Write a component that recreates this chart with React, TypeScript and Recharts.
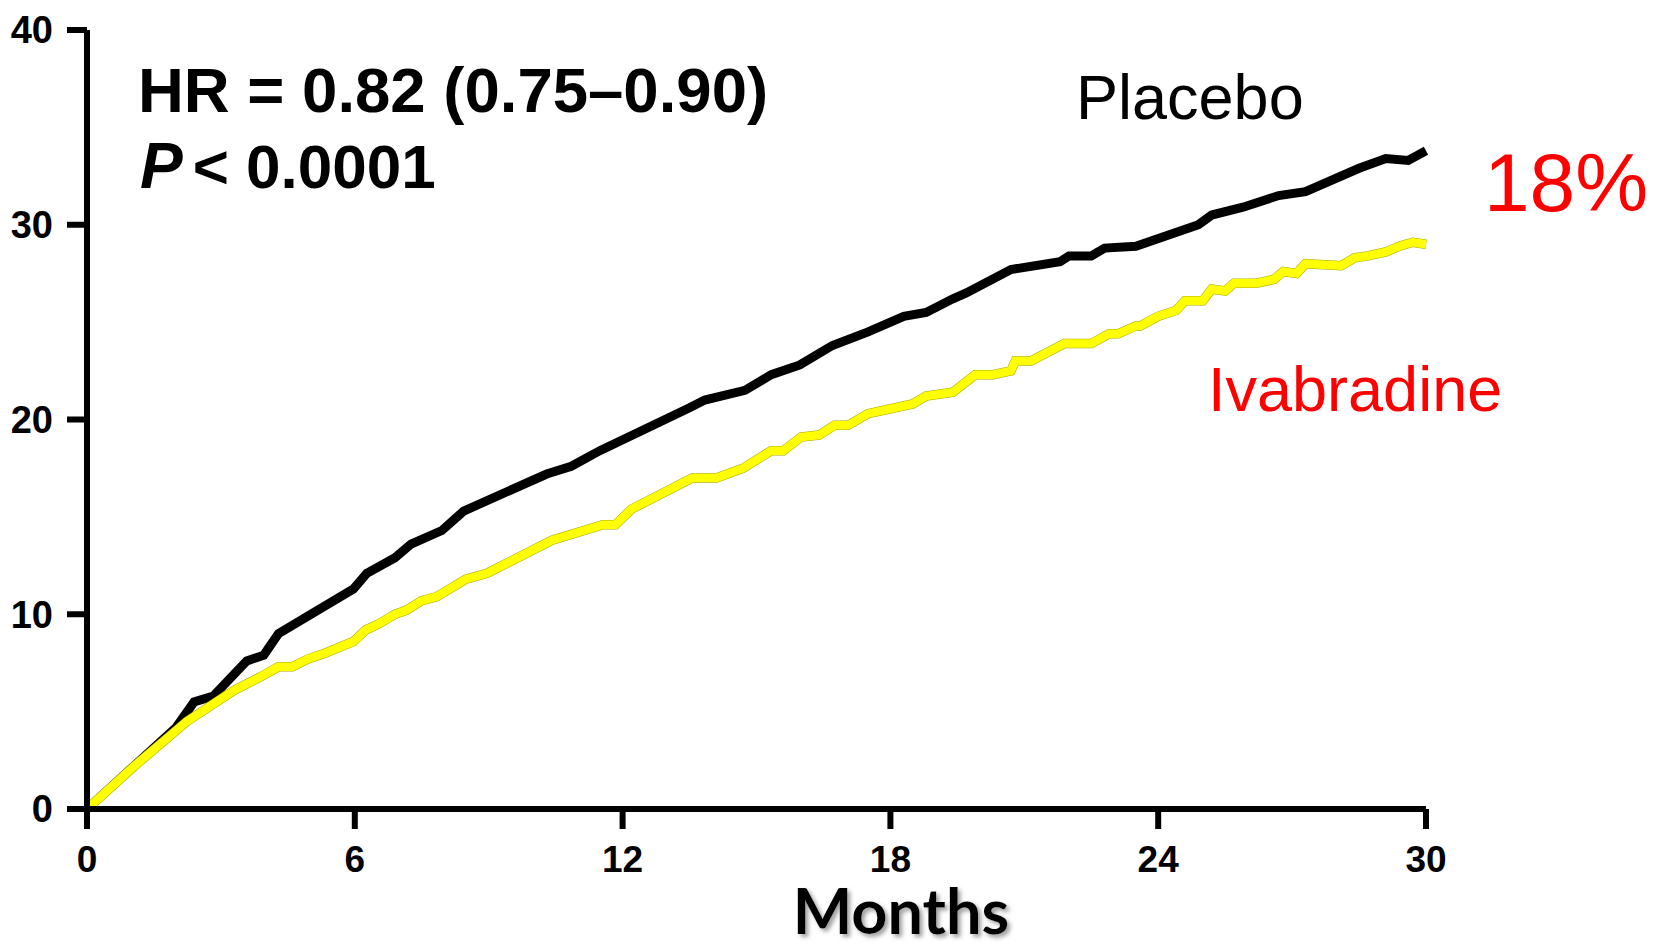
import React from "react";
import { LineChart, Line, XAxis, YAxis } from "recharts";

const placeboMonths = [0, 2.0, 2.4, 2.83, 3.58, 3.96, 4.29, 5.97, 6.27, 6.9, 7.26, 7.95, 8.44, 10.3, 10.85, 11.49, 13.5, 13.84, 14.74, 15.33, 15.97, 16.7, 17.5, 18.3, 18.8, 19.4, 19.7, 20.7, 21.8, 22.0, 22.5, 22.8, 23.5, 24.9, 25.2, 25.9, 26.7, 27.3, 28.5, 29.1, 29.6, 30.0];
const placeboPct = [0, 4.2, 5.5, 5.8, 7.6, 7.9, 9.0, 11.3, 12.1, 12.9, 13.6, 14.3, 15.3, 17.2, 17.6, 18.4, 20.6, 21.0, 21.5, 22.3, 22.8, 23.8, 24.5, 25.3, 25.5, 26.2, 26.5, 27.7, 28.1, 28.4, 28.4, 28.8, 28.9, 30.0, 30.5, 30.9, 31.5, 31.7, 32.9, 33.4, 33.3, 33.8];

const ivaMonths = [0, 1.06, 2.24, 3.3, 3.9, 4.29, 4.6, 4.95, 5.33, 5.97, 6.25, 6.53, 6.9, 7.15, 7.5, 7.83, 8.49, 8.96, 10.42, 11.56, 11.84, 12.2, 13.56, 14.1, 14.7, 15.33, 15.6, 16.0, 16.4, 16.75, 17.05, 17.5, 18.5, 18.8, 19.4, 19.9, 20.3, 20.7, 20.8, 21.15, 21.9, 22.5, 22.9, 23.1, 23.5, 23.6, 24.0, 24.4, 24.6, 25.0, 25.2, 25.5, 25.7, 26.2, 26.6, 26.8, 27.1, 27.3, 28.1, 28.4, 28.7, 29.1, 29.4, 29.7, 30.0];
const ivaPct = [0, 2.2, 4.5, 6.1, 6.8, 7.3, 7.3, 7.7, 8.0, 8.6, 9.2, 9.5, 10.0, 10.2, 10.7, 10.9, 11.8, 12.1, 13.8, 14.6, 14.6, 15.4, 17.0, 17.0, 17.5, 18.4, 18.4, 19.1, 19.2, 19.7, 19.7, 20.3, 20.8, 21.2, 21.4, 22.3, 22.3, 22.5, 23.0, 23.0, 23.9, 23.9, 24.4, 24.4, 24.8, 24.8, 25.3, 25.6, 26.1, 26.1, 26.7, 26.6, 27.0, 27.0, 27.2, 27.6, 27.5, 28.0, 27.9, 28.3, 28.4, 28.6, 28.9, 29.1, 29.0];

const xTicks = [0, 6, 12, 18, 24, 30];
const yTicks = [0, 10, 20, 30, 40];

const placeboData = placeboMonths.map((m, i) => ({ m, v: placeboPct[i] }));
const ivaData = ivaMonths.map((m, i) => ({ m, v: ivaPct[i] }));

const arial = "'Liberation Sans', Arial, sans-serif";

export default function App() {
  return (
    <div style={{ position: "absolute", left: 0, top: 0, width: 1654, height: 942, background: "#fff" }}>
      <LineChart
        width={1654}
        height={942}
        margin={{ top: 30, right: 228, left: 27, bottom: 73 }}
      >
        <XAxis
          dataKey="m"
          type="number"
          domain={[0, 30]}
          ticks={xTicks}
          allowDuplicatedCategory={false}
          height={60}
          tickSize={20}
          tickMargin={17}
          axisLine={{ stroke: "#000", strokeWidth: 6 }}
          tickLine={{ stroke: "#000", strokeWidth: 6 }}
          tick={{ fill: "#000", fontSize: 37, fontWeight: 700, fontFamily: arial }}
        />
        <YAxis
          type="number"
          domain={[0, 40]}
          ticks={yTicks}
          width={60}
          tickSize={20}
          tickMargin={14}
          axisLine={{ stroke: "#000", strokeWidth: 6 }}
          tickLine={{ stroke: "#000", strokeWidth: 6 }}
          tick={{ fill: "#000", fontSize: 38, fontWeight: 700, fontFamily: arial }}
        />
        <Line
          data={placeboData}
          dataKey="v"
          type="linear"
          stroke="#000"
          strokeWidth={9}
          dot={false}
          isAnimationActive={false}
        />
        <Line
          data={ivaData}
          dataKey="v"
          type="linear"
          stroke="#a8a800"
          strokeWidth={9.5}
          dot={false}
          isAnimationActive={false}
        />
        <Line
          data={ivaData}
          dataKey="v"
          type="linear"
          stroke="#ffff00"
          strokeWidth={8.5}
          dot={false}
          isAnimationActive={false}
        />
      </LineChart>
      <svg
        width={1654}
        height={942}
        style={{ position: "absolute", left: 0, top: 0, pointerEvents: "none" }}
      >
        <defs>
          <filter id="shadow" x="-10%" y="-30%" width="130%" height="160%">
            <feDropShadow dx="3" dy="3" stdDeviation="2" floodColor="#888" floodOpacity="0.8" />
          </filter>
        </defs>
        <text x={138} y={112} fontFamily={arial} fontWeight={700} fontSize={63.5} fill="#000">
          HR = 0.82 (0.75–0.90)
        </text>
        <text x={140} y={188} fontFamily={arial} fontWeight={700} fontSize={64} fill="#000">
          <tspan fontStyle="italic">P</tspan>
          <tspan dx={10} fontSize={62}>&lt; 0.0001</tspan>
        </text>
        <text x={1076} y={119} fontFamily={arial} fontSize={63} fill="#000">
          Placebo
        </text>
        <text x={1484} y={211} fontFamily={arial} fontSize={82} fill="#ff0000">
          18%
        </text>
        <text x={1208} y={411} fontFamily={arial} fontSize={63} fill="#ff0000">
          Ivabradine
        </text>
        <text
          x={901}
          y={934}
          textAnchor="middle"
          fontFamily="Lato, 'Open Sans', sans-serif"
          fontWeight={700}
          fontSize={63}
          fill="#000"
          filter="url(#shadow)"
        >
          Months
        </text>
      </svg>
    </div>
  );
}
